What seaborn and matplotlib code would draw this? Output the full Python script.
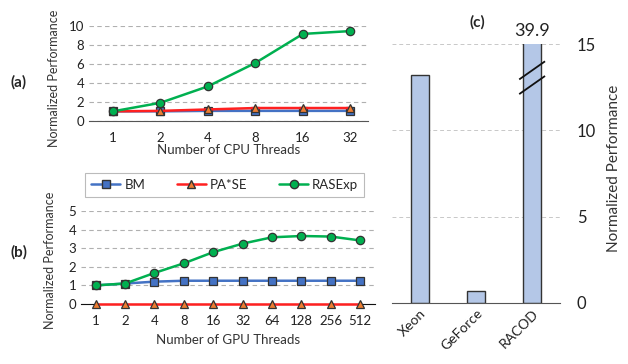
import pandas as pd
import matplotlib.pyplot as plt
import seaborn as sns
from matplotlib.lines import Line2D

# Datos
cpu_threads = ["1", "2", "4", "8", "16", "32"]
cpu_bm = [1.0, 1.0, 1.05, 1.05, 1.05, 1.05]
cpu_pase = [1.0, 1.05, 1.2, 1.35, 1.35, 1.35]
cpu_rasexp = [1.0, 1.9, 3.63, 6.1, 9.15, 9.45]

gpu_threads = ["1", "2", "4", "8", "16", "32", "64", "128", "256", "512"]
gpu_bm = [1.0, 1.1, 1.2, 1.25, 1.25, 1.25, 1.25, 1.25, 1.25, 1.25]
gpu_pase = [0.0, 0.0, 0.0, 0.0, 0.0, 0.0, 0.0, 0.0, 0.0, 0.0]
gpu_rasexp = [1.0, 1.1, 1.67, 2.19, 2.79, 3.25, 3.59, 3.66, 3.63, 3.42]

plataformas = ["Xeon", "GeForce", "RACOD"]
rendimiento = [13.2, 0.7, 39.9]

sns.set_style("white")
plt.rcParams["font.family"] = ["Lato", "DejaVu Sans"]

estilos = {
    "BM": dict(color="#4472C4", marker="s", markerfacecolor="#4472C4"),
    "PA*SE": dict(color="#FF2020", marker="^", markerfacecolor="#ED7D31"),
    "RASExp": dict(color="#00B050", marker="o", markerfacecolor="#00B050"),
}

fig = plt.figure(figsize=(6.28, 3.64), dpi=100)
ax_a = fig.add_axes([0.142, 0.668, 0.444, 0.261])
ax_b = fig.add_axes([0.129, 0.165, 0.468, 0.255])
ax_c = fig.add_axes([0.624, 0.1676, 0.268, 0.7114])


def dibujar_lineas(ax, hilos, series, ymax, paso):
    df = pd.DataFrame({"hilos": hilos, **series})
    for nombre in ["BM", "PA*SE", "RASExp"]:
        est = estilos[nombre]
        sns.lineplot(data=df, x="hilos", y=nombre, ax=ax, color=est["color"],
                     marker=est["marker"], markerfacecolor=est["markerfacecolor"],
                     markeredgecolor="#333333", markeredgewidth=0.9, markersize=6,
                     linewidth=1.8, label=nombre, sort=False, zorder=3, clip_on=False)
    ax.set_ylim(0, ymax)
    ax.set_yticks(range(0, ymax + 1, paso))
    ax.yaxis.grid(True, linestyle=(0, (4, 3)), color="#B0B0B0", linewidth=0.8)
    ax.xaxis.grid(False)
    for s in ["top", "right", "left"]:
        ax.spines[s].set_visible(False)
    ax.spines["bottom"].set_color("#555555")
    ax.tick_params(axis="both", length=0, labelsize=9.5, colors="#222222")
    ax.tick_params(axis="x", pad=8)
    ax.set_ylabel("Normalized Performance", fontsize=9, color="#333333")
    ax.get_legend().remove()


dibujar_lineas(ax_a, cpu_threads,
               {"BM": cpu_bm, "PA*SE": cpu_pase, "RASExp": cpu_rasexp}, 10, 2)
ax_a.set_xlim(-0.5, 5.37)
ax_a.set_xlabel("Number of CPU Threads", fontsize=9.5, color="#333333", labelpad=0)
ax_a.yaxis.set_label_coords(-0.105, 0.45)

dibujar_lineas(ax_b, gpu_threads,
               {"BM": gpu_bm, "PA*SE": gpu_pase, "RASExp": gpu_rasexp}, 5, 1)
ax_b.set_xlim(-0.5, 9.5)
ax_b.spines["bottom"].set_color("#111111")
ax_b.set_xlabel("Number of GPU Threads", fontsize=9.5, color="#333333", labelpad=5)
ax_b.yaxis.set_label_coords(-0.085, 0.47)

# Leyenda comun
handles = [Line2D([], [], color=estilos[n]["color"], marker=estilos[n]["marker"],
                  markerfacecolor=estilos[n]["markerfacecolor"], markeredgecolor="#333333",
                  markersize=6, linewidth=1.8) for n in estilos]
leg = fig.legend(handles, list(estilos), loc="center", bbox_to_anchor=(0.358, 0.492),
                 ncol=3, fontsize=9.5, frameon=True, fancybox=False, handlelength=2.2,
                 columnspacing=2.4, handletextpad=0.3, borderpad=0.45)
leg.get_frame().set_edgecolor("#AAAAAA")
leg.get_frame().set_linewidth(0.8)

fig.text(0.03, 0.775, "(a)", fontsize=11, fontweight="bold", ha="center", va="center")
fig.text(0.03, 0.307, "(b)", fontsize=11, fontweight="bold", ha="center", va="center")

# (c) barras
df_c = pd.DataFrame({"plataforma": plataformas, "valor": rendimiento})
sns.barplot(data=df_c, x="plataforma", y="valor", ax=ax_c, color="#B4C7E7",
            saturation=1, width=0.32, edgecolor="#333333", linewidth=1.0)
ax_c.set_ylim(0, 15)
ax_c.set_xlim(-0.5, 2.5)
ax_c.set_yticks([0, 5, 10, 15])
ax_c.yaxis.tick_right()
ax_c.yaxis.set_label_position("right")
ax_c.yaxis.grid(True, linestyle=(0, (4, 3)), color="#C8C8C8", linewidth=0.7)
for s in ["top", "right", "left"]:
    ax_c.spines[s].set_visible(False)
ax_c.spines["bottom"].set_color("#555555")
ax_c.tick_params(axis="y", length=0, labelsize=12, colors="#222222", pad=12)
ax_c.tick_params(axis="x", length=0, labelsize=10, colors="#222222", pad=3)
plt.setp(ax_c.get_xticklabels(), rotation=45, ha="right", rotation_mode="anchor")
ax_c.set_xlabel("")
ax_c.set_ylabel("Normalized Performance", fontsize=11, color="#333333")
ax_c.yaxis.set_label_coords(1.28, 0.52)

# valor fuera de escala y marca de corte
ax_c.text(2, 15.3, f"{rendimiento[2]:.1f}", ha="center", va="bottom", fontsize=13,
          color="#222222", clip_on=False)
for y0 in (12.95, 12.1):
    ax_c.plot([1.77, 2.23], [y0, y0 + 1.05], color="#111111", linewidth=1.3,
              zorder=5, solid_capstyle="butt")
ax_c.text(0.51, 1.085, "(c)", transform=ax_c.transAxes, fontsize=11,
          fontweight="bold", ha="center", va="center")

fig.savefig("out.png", dpi=100)
